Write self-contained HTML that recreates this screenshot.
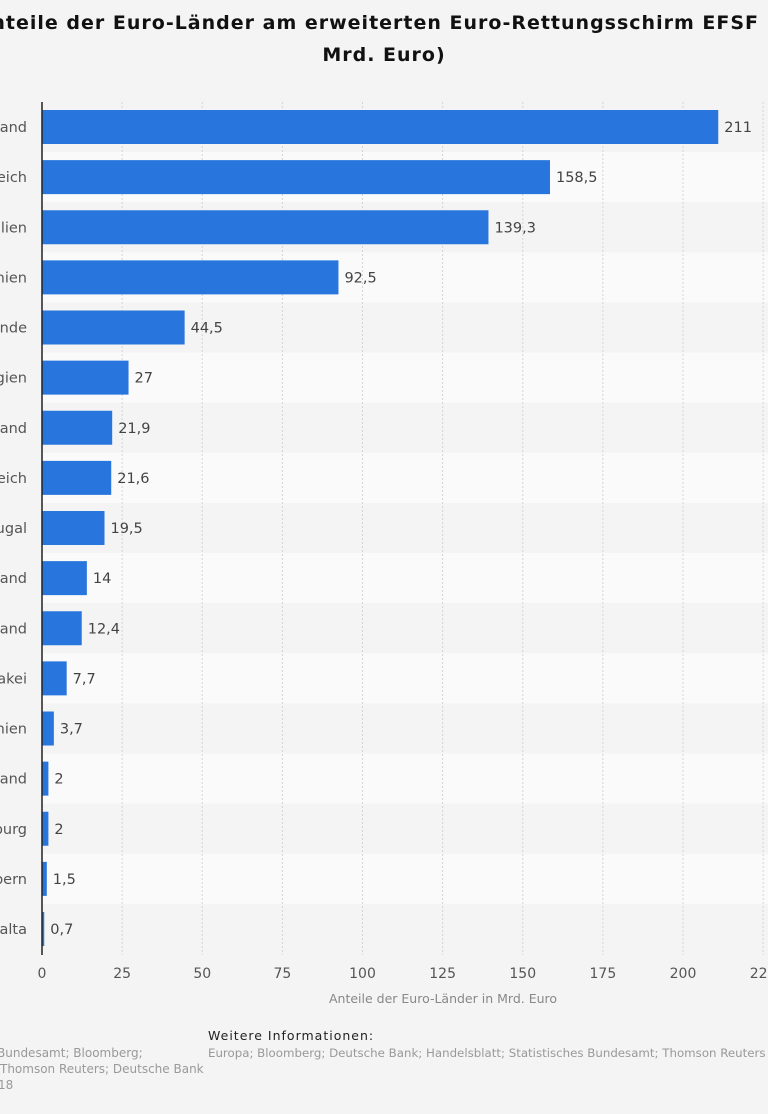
<!DOCTYPE html>
<html><head><meta charset="utf-8"><style>
html,body{margin:0;padding:0;background:#f4f4f4;}
svg{display:block;font-family:"DejaVu Sans","Liberation Sans",sans-serif;}
</style></head><body>
<svg width="768" height="1114" viewBox="0 0 768 1114" xmlns="http://www.w3.org/2000/svg">
<rect width="768" height="1114" fill="#f4f4f4"/>
<text x="387" y="29" text-anchor="middle" font-size="19" font-weight="bold" letter-spacing="1" fill="#111">Anteile der Euro-Länder am erweiterten Euro-Rettungsschirm EFSF (in</text>
<text x="384" y="61" text-anchor="middle" font-size="19" font-weight="bold" letter-spacing="1" fill="#111">Mrd. Euro)</text>
<g id="bands"></g>
<g id="grid"></g>
<g id="bars"></g>
<line x1="42" y1="102" x2="42" y2="955" stroke="#222" stroke-width="1.5"/>
<text x="443" y="1003" text-anchor="middle" font-size="12.5" fill="#888">Anteile der Euro-Länder in Mrd. Euro</text>
<text x="208" y="1040" font-size="12.5" fill="#222" letter-spacing="1">Weitere Informationen:</text>
<text x="208" y="1057" font-size="11.8" fill="#999">Europa; Bloomberg; Deutsche Bank; Handelsblatt; Statistisches Bundesamt; Thomson Reuters</text>
<text x="-3" y="1057" font-size="12" fill="#999">Bundesamt; Bloomberg;</text>
<text x="0" y="1073" font-size="12" fill="#999">Thomson Reuters; Deutsche Bank</text>
<text x="-2" y="1089" font-size="12" fill="#999">18</text>
</svg>
<script>
const names=["Deutschland","Frankreich","Italien","Spanien","Niederlande","Belgien","Griechenland","Österreich","Portugal","Finnland","Irland","Slowakei","Slowenien","Estland","Luxemburg","Zypern","Malta"];
const vals=[211,158.5,139.3,92.5,44.5,27,21.9,21.6,19.5,14,12.4,7.7,3.7,2,2,1.5,0.7];
const ns="http://www.w3.org/2000/svg";
function el(t,a,p,txt){const e=document.createElementNS(ns,t);for(const k in a)e.setAttribute(k,a[k]);if(txt!==undefined)e.textContent=txt;document.getElementById(p).appendChild(e);return e;}
const sx=v=>42+v*3.205;
for(let i=0;i<17;i++){
 const c=127+i*50.125;
 el("rect",{x:42,y:c-25,width:726,height:50.125,fill:(i%2==0)?"#f4f4f4":"#fafafa"},"bands");
}
for(let t=0;t<=225;t+=25){
 const x=sx(t);
 if(t>0) el("line",{x1:x,y1:102,x2:x,y2:955,stroke:"#d4d4d4","stroke-dasharray":"2,2"},"grid");
 el("text",{x:x,y:978,"text-anchor":"middle","font-size":"14",fill:"#555"},"grid",String(t));
}
for(let i=0;i<17;i++){
 const c=127+i*50.125;
 el("rect",{x:42,y:c-17,width:Math.max(vals[i]*3.205,1.5),height:34,fill:"#2876dd"},"bars");
 el("text",{x:sx(vals[i])+6,y:c+5,"font-size":"14.5",fill:"#444"},"bars",String(vals[i]).replace(".",","));
 el("text",{x:27,y:c+5,"text-anchor":"end","font-size":"14.5",fill:"#555"},"bars",names[i]);
}
</script>
</body></html>
